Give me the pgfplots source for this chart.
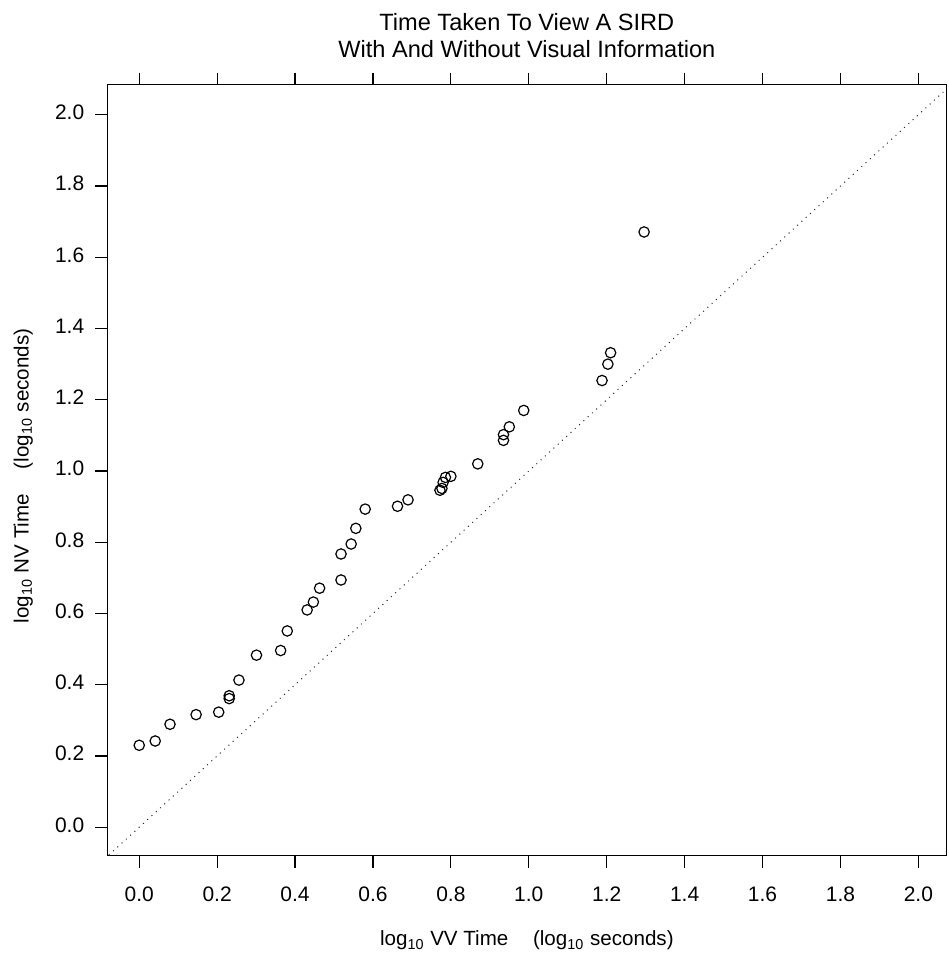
\documentclass[border=0pt]{standalone}
\usepackage{pgfplots}
\pgfplotsset{compat=1.18}
\usepackage{fontspec}
\setmainfont{Liberation Sans}
\begin{document}
\begin{tikzpicture}
\begin{axis}[
  scale only axis, width=420pt, height=386pt,
  xmin=-0.082, xmax=2.072, ymin=-0.08, ymax=2.085,
  xtick={0,0.2,0.4,0.6,0.8,1.0,1.2,1.4,1.6,1.8,2.0},
  ytick={0,0.2,0.4,0.6,0.8,1.0,1.2,1.4,1.6,1.8,2.0},
  tick align=outside, major tick length=6pt,
  xtick pos=both, xticklabel pos=lower, ytick pos=left,
  tick style={black, line width=0.6pt},
  axis line style={line width=0.6pt},
  typeset ticklabels with strut,
  /pgf/number format/fixed, /pgf/number format/fixed zerofill,
  /pgf/number format/precision=1, /pgf/number format/assume math mode=true,
  ticklabel style={font=\fontsize{10.5}{12}\selectfont},
  xticklabel style={yshift=-5pt},
  yticklabel style={xshift=-2pt},
  xlabel={log\textsubscript{10} VV Time\hspace{1.2em}(log\textsubscript{10} seconds)},
  ylabel={log\textsubscript{10} NV Time\hspace{1.2em}(log\textsubscript{10} seconds)},
  label style={font=\fontsize{10.3}{12}\selectfont},
  xlabel style={at={(0.5,0)}, anchor=center, yshift=-42.5pt},
  ylabel style={at={(0,0.5)}, anchor=center, yshift=42pt, xshift=-3pt},
  title={Time Taken To View A SIRD\\With And Without Visual Information},
  title style={font=\fontsize{11.8}{13.5}\selectfont, align=center, at={(0.5,1)}, anchor=south, yshift=4pt},
  clip=true,
]
\addplot[black!85, line width=0.5pt, dash pattern=on 0.5pt off 2.4pt] coordinates {(-0.1,-0.1) (2.2,2.2)};
\addplot[only marks, mark=o, mark size=2.6pt, mark options={line width=0.6pt, black}] coordinates {
(0.000,0.230) (0.041,0.242) (0.079,0.289) (0.146,0.316) (0.204,0.323)
(0.231,0.369) (0.231,0.361) (0.256,0.413) (0.301,0.483) (0.363,0.496)
(0.380,0.551) (0.431,0.610) (0.447,0.632) (0.463,0.671) (0.518,0.694)
(0.518,0.767) (0.544,0.795) (0.556,0.839) (0.580,0.893) (0.663,0.901)
(0.690,0.919) (0.772,0.946) (0.777,0.951) (0.780,0.968) (0.786,0.982)
(0.800,0.985) (0.869,1.020) (0.935,1.086) (0.935,1.102) (0.950,1.124)
(0.987,1.170) (1.188,1.254) (1.203,1.300) (1.210,1.332) (1.296,1.671)
};
\end{axis}
\path (current axis.south west) ++(-53.7pt,-50.7pt);
\path (current axis.north east) ++(1pt,42.3pt);
\end{tikzpicture}
\end{document}
